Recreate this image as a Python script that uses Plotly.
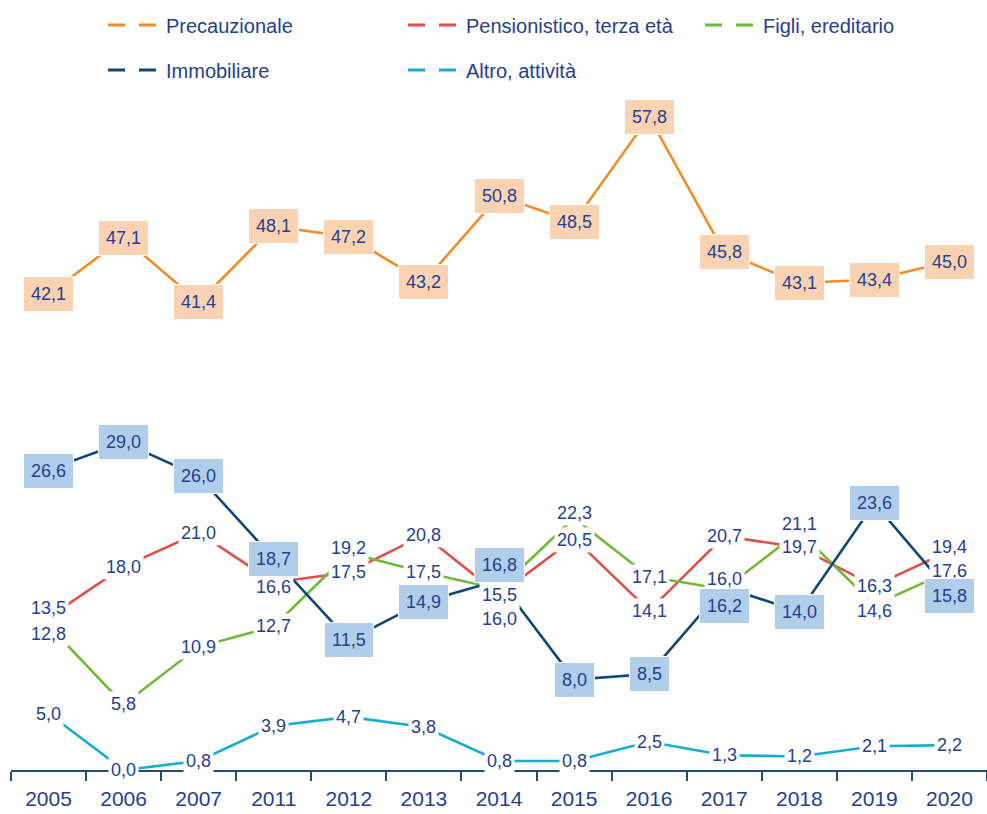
import plotly.graph_objects as go

# Categories and series values (percent)
years = ["2005", "2006", "2007", "2011", "2012", "2013", "2014",
         "2015", "2016", "2017", "2018", "2019", "2020"]
precauzionale = [42.1, 47.1, 41.4, 48.1, 47.2, 43.2, 50.8, 48.5, 57.8, 45.8, 43.1, 43.4, 45.0]
pensionistico = [13.5, 18.0, 21.0, 16.6, 17.5, 20.8, 15.5, 20.5, 14.1, 20.7, 19.7, 16.3, 19.4]
figli = [12.8, 5.8, 10.9, 12.7, 19.2, 17.5, 16.0, 22.3, 17.1, 16.0, 21.1, 14.6, 17.6]
immobiliare = [26.6, 29.0, 26.0, 18.7, 11.5, 14.9, 16.8, 8.0, 8.5, 16.2, 14.0, 23.6, 15.8]
altro = [5.0, 0.0, 0.8, 3.9, 4.7, 3.8, 0.8, 0.8, 2.5, 1.3, 1.2, 2.1, 2.2]

FONT = "Liberation Sans, Arial, sans-serif"
TEXT = "#24408e"
NAVY_AXIS = "#1f4e79"

# series: name, values, line colour, label background, label pixel nudges (down = +), legend
series = [
    ("Precauzionale", precauzionale, "#f28c28", "#fbd3b3", [0] * 13, "legend"),
    ("Pensionistico, terza età", pensionistico, "#e0504b", "white",
     [-9, 0, 0, 5, 0, 0, 0, 2, 0, 0, 0, 0, -4], "legend"),
    ("Figli, ereditario", figli, "#72b83b", "white",
     [9, 0, 0, 0, -5, 0, 30, -5, 0, -10, -8, 6, 0], "legend3"),
    ("Immobiliare", immobiliare, "#0e4778", "#b0cde9",
     [2, 0, 0, 0, 0, 0, -15, 0, 0, 19, 0, 0, 5], "legend2"),
    ("Altro, attività", altro, "#17aecb", "white", [0] * 13, "legend2"),
]

boxed = {"Precauzionale", "Immobiliare"}

fig = go.Figure()
for name, vals, color, bg, nudge, leg in series:
    fig.add_trace(go.Scatter(
        x=years, y=vals, mode="lines", name=name, showlegend=False,
        line=dict(color=color, width=2.6), cliponaxis=False,
    ))

# value labels
for name, vals, color, bg, nudge, leg in series:
    for i, (v, dy) in enumerate(zip(vals, nudge)):
        label = f"{v:.1f}".replace(".", ",")
        if name in boxed:
            fig.add_annotation(
                x=i, y=v, xref="x", yref="y", showarrow=False, text=label,
                yshift=-dy, font=dict(family=FONT, size=18, color=TEXT),
                bgcolor=bg, borderpad=7, bordercolor="white", borderwidth=1,
            )
        else:
            fig.add_annotation(
                x=i, y=v, xref="x", yref="y", showarrow=False, text=label,
                yshift=-dy, font=dict(family=FONT, size=18, color=TEXT),
                bgcolor=bg, borderpad=2,
            )

# legend-only entries with dashed samples
for name, vals, color, bg, nudge, leg in series:
    fig.add_trace(go.Scatter(
        x=[None], y=[None], mode="lines", name=name, legend=leg,
        line=dict(color=color, width=3, dash="17px,14px"),
    ))

legend_common = dict(
    orientation="h", xref="container", yref="container",
    xanchor="left", yanchor="middle",
    font=dict(family=FONT, size=20, color=TEXT),
    entrywidth=232, entrywidthmode="pixels", itemwidth=53,
    bgcolor="rgba(0,0,0,0)",
)

fig.update_layout(
    width=987, height=814,
    margin=dict(l=11, r=0, t=92, b=44),
    paper_bgcolor="white", plot_bgcolor="white",
    legend=dict(legend_common, x=103 / 987, y=1 - 25 / 814),
    legend2=dict(legend_common, x=103 / 987, y=1 - 70 / 814),
    legend3=dict(legend_common, x=700 / 987, y=1 - 25 / 814),
    xaxis=dict(
        type="category", categoryarray=years, range=[-0.5, 12.5],
        tickson="boundaries", ticks="outside", ticklen=9, tickwidth=2,
        tickcolor=NAVY_AXIS, showline=True, linecolor=NAVY_AXIS, linewidth=2,
        showgrid=False, zeroline=False, ticklabelstandoff=9,
        tickfont=dict(family=FONT, size=21, color=TEXT),
    ),
    yaxis=dict(range=[0, 60], visible=False, showgrid=False, zeroline=False),
)

fig.write_html("out.html")
